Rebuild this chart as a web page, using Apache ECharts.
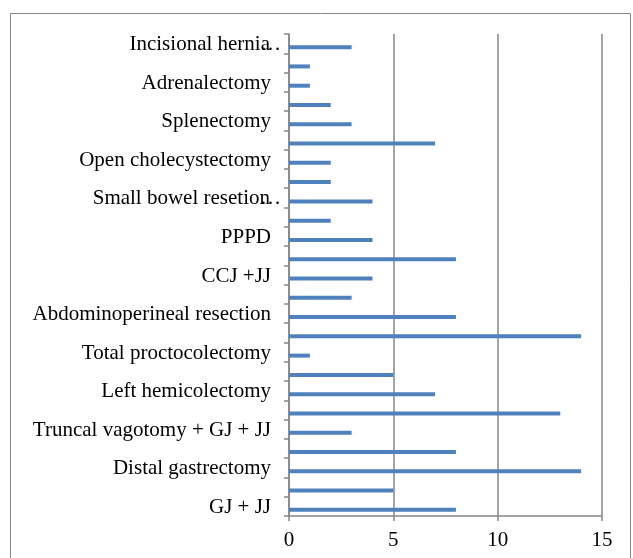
<!DOCTYPE html>
<html>
<head>
<meta charset="utf-8">
<script src="https://cdn.jsdelivr.net/npm/echarts@6/dist/echarts.min.js"></script>
<style>
  html, body { margin: 0; padding: 0; background: #fff; }
  #chart { width: 633px; height: 558px; }
</style>
</head>
<body>
<div id="chart"></div>
<script>
// categories bottom -> top, only every second one is labelled in the source
var procedures = [
  'GJ + JJ', '', 'Distal gastrectomy', '', 'Truncal vagotomy + GJ + JJ', '',
  'Left hemicolectomy', '', 'Total proctocolectomy', '', 'Abdominoperineal resection', '',
  'CCJ +JJ', '', 'PPPD', '', 'Small bowel resetion\u2026', '', 'Open cholecystectomy', '',
  'Splenectomy', '', 'Adrenalectomy', '', 'Incisional hernia\u2026'
];
var counts = [8, 5, 14, 8, 3, 13, 7, 5, 1, 14, 8, 3, 4, 8, 4, 2, 4, 2, 2, 7, 3, 2, 1, 1, 3];
var xTicks = [0, 5, 10, 15];

var chart = echarts.init(document.getElementById('chart'));
var axisGray = '#868686';

// truncated names: the ellipsis hangs past the label's right edge like in Excel
function catLabel(v) {
  if (v.slice(-1) === '\u2026') {
    return '{t|' + v.slice(0, -1) + '}{e|\u2026}';
  }
  return '{t|' + v + '}';
}

var option = {
  animation: false,
  backgroundColor: '#fff',
  textStyle: { fontFamily: 'Liberation Serif' },
  graphic: [{
    type: 'rect',
    shape: { x: 10.5, y: 13.5, width: 620, height: 570 },
    style: { fill: 'none', stroke: axisGray, lineWidth: 1 }
  }],
  grid: { left: 289, right: 31, top: 34, bottom: 42 },
  xAxis: {
    type: 'value',
    min: xTicks[0],
    max: xTicks[xTicks.length - 1],
    interval: 5,
    axisLine: { show: true, lineStyle: { color: axisGray, width: 1.5 } },
    axisTick: { show: true, length: 5, lineStyle: { color: axisGray, width: 1.5 } },
    axisLabel: { color: '#000', fontSize: 21, margin: 14, fontFamily: 'Liberation Serif' },
    splitLine: { show: true, lineStyle: { color: axisGray, width: 1.5 } }
  },
  yAxis: {
    type: 'category',
    data: procedures,
    axisLine: { show: true, lineStyle: { color: axisGray, width: 1.5 } },
    axisTick: { show: true, interval: 0, length: 5, lineStyle: { color: axisGray, width: 1.5 } },
    axisLabel: {
      interval: 0, margin: 18, formatter: catLabel,
      rich: {
        t: { color: '#000', fontSize: 21, fontFamily: 'Liberation Serif', padding: [2, 0, 0, 0] },
        e: { color: '#000', fontSize: 21, fontFamily: 'Liberation Serif', width: 1, align: 'left', padding: [2, 0, 0, 0] }
      }
    },
    splitLine: { show: false }
  },
  series: [{
    // empty slot: the source chart leaves room for a second series
    type: 'bar',
    data: [],
    barWidth: 4,
    barGap: '75%'
  }, {
    type: 'bar',
    data: counts,
    barWidth: 4,
    itemStyle: { color: '#4F81BD' }
  }]
};
chart.setOption(option);
</script>
</body>
</html>
